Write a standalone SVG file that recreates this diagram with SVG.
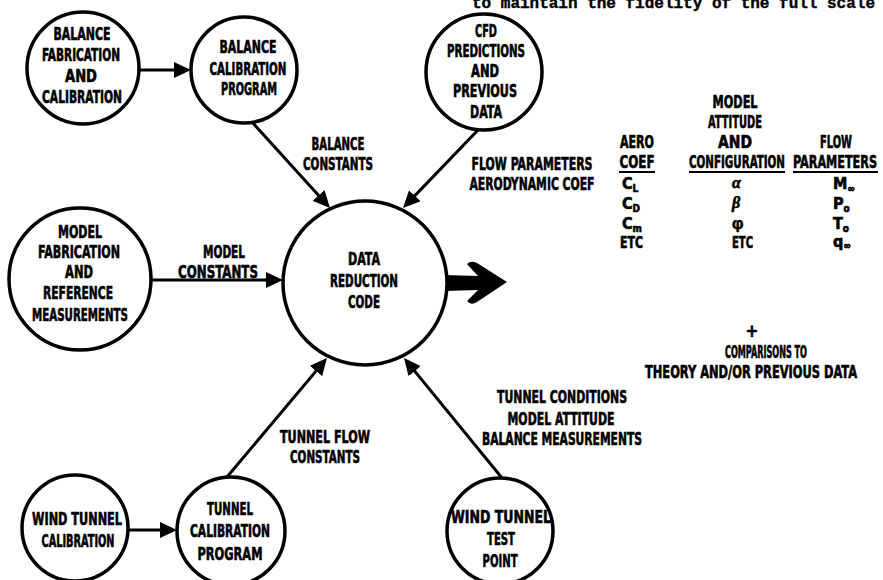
<svg xmlns="http://www.w3.org/2000/svg" width="883" height="580" viewBox="0 0 883 580">
<defs>
<marker id="ah" markerUnits="userSpaceOnUse" viewBox="0 0 17 16" refX="13" refY="8" markerWidth="17" markerHeight="16" orient="auto">
<path d="M0,0 L17,8 L0,16 Z" fill="#000"/>
</marker>
</defs>
<style>
.n{fill:#fff;stroke:#000;stroke-width:3.5}
.c{stroke:#000;stroke-width:3;fill:none;marker-end:url(#ah)}
text{font-family:"Liberation Sans Narrow","DejaVu Sans Condensed","Liberation Sans",sans-serif;font-weight:bold;font-size:17px;fill:#000;stroke:#000;stroke-width:0.6}
.m{text-anchor:middle}
.g{font-family:"Liberation Serif",serif;font-style:italic}
.t{font-size:16px}
.s{font-size:10px}
.u{stroke:#000;stroke-width:2}
.top{font-family:"Liberation Mono",monospace;font-size:16px;stroke-width:0.4}
</style>
<rect width="883" height="580" fill="#fff"/>
<text class="top" x="472" y="8" textLength="403" lengthAdjust="spacingAndGlyphs">to maintain the fidelity of the full scale</text>
<g id="connectors">
<line class="c" x1="139" y1="70" x2="187" y2="70"/>
<line class="c" x1="252" y1="122" x2="327.3" y2="205.1"/>
<line class="c" x1="478" y1="130" x2="405.8" y2="205.1"/>
<line class="c" x1="151" y1="280" x2="279" y2="280"/>
<line class="c" x1="227" y1="477" x2="324.4" y2="361.1"/>
<line class="c" x1="502" y1="478" x2="406.5" y2="361.1"/>
<line class="c" x1="128" y1="530" x2="173" y2="530"/>
<path id="output-arrow" d="M444,275 L478,276 L467,264 Q471,260 477,263 L507,282 L477,302 Q471,306 467,301 L478,290 L444,291 Z" fill="#000"/>
</g>
<g id="balance-fab">
<circle class="n" cx="83" cy="68" r="56"/>
<text class="m" x="82" y="40" textLength="57" lengthAdjust="spacingAndGlyphs">BALANCE</text>
<text class="m" x="81" y="61" textLength="78" lengthAdjust="spacingAndGlyphs">FABRICATION</text>
<text class="m" x="81" y="82" textLength="32" lengthAdjust="spacingAndGlyphs">AND</text>
<text class="m" x="82" y="103" textLength="80" lengthAdjust="spacingAndGlyphs">CALIBRATION</text>
</g>
<g id="balance-cal">
<circle class="n" cx="244" cy="70" r="53"/>
<text class="m" x="248" y="53" textLength="57" lengthAdjust="spacingAndGlyphs">BALANCE</text>
<text class="m" x="248" y="75" textLength="77" lengthAdjust="spacingAndGlyphs">CALIBRATION</text>
<text class="m" x="249" y="95" textLength="56" lengthAdjust="spacingAndGlyphs">PROGRAM</text>
</g>
<g id="cfd">
<circle class="n" cx="484" cy="72" r="58"/>
<text class="m" x="486" y="37" textLength="22" lengthAdjust="spacingAndGlyphs">CFD</text>
<text class="m" x="486" y="57" textLength="78" lengthAdjust="spacingAndGlyphs">PREDICTIONS</text>
<text class="m" x="485" y="77" textLength="28" lengthAdjust="spacingAndGlyphs">AND</text>
<text class="m" x="485" y="97" textLength="64" lengthAdjust="spacingAndGlyphs">PREVIOUS</text>
<text class="m" x="486" y="118" textLength="32" lengthAdjust="spacingAndGlyphs">DATA</text>
</g>
<g id="model-fab">
<circle class="n" cx="80" cy="279" r="71"/>
<text class="m" x="80" y="238" textLength="44" lengthAdjust="spacingAndGlyphs">MODEL</text>
<text class="m" x="79" y="258" textLength="82" lengthAdjust="spacingAndGlyphs">FABRICATION</text>
<text class="m" x="79" y="278" textLength="28" lengthAdjust="spacingAndGlyphs">AND</text>
<text class="m" x="78" y="299" textLength="70" lengthAdjust="spacingAndGlyphs">REFERENCE</text>
<text class="m" x="80" y="321" textLength="96" lengthAdjust="spacingAndGlyphs">MEASUREMENTS</text>
</g>
<g id="data-reduction">
<circle class="n" cx="365" cy="283" r="82"/>
<text class="m" x="364" y="265" textLength="32" lengthAdjust="spacingAndGlyphs">DATA</text>
<text class="m" x="364" y="287" textLength="68" lengthAdjust="spacingAndGlyphs">REDUCTION</text>
<text class="m" x="364" y="308" textLength="32" lengthAdjust="spacingAndGlyphs">CODE</text>
</g>
<g id="wt-cal">
<circle class="n" cx="75" cy="528" r="53"/>
<text class="m" x="77" y="525" textLength="90" lengthAdjust="spacingAndGlyphs">WIND TUNNEL</text>
<text class="m" x="78" y="547" textLength="73" lengthAdjust="spacingAndGlyphs">CALIBRATION</text>
</g>
<g id="tunnel-cal">
<circle class="n" cx="231" cy="531" r="54"/>
<text class="m" x="230" y="515" textLength="46" lengthAdjust="spacingAndGlyphs">TUNNEL</text>
<text class="m" x="230" y="537" textLength="80" lengthAdjust="spacingAndGlyphs">CALIBRATION</text>
<text class="m" x="230" y="560" textLength="65" lengthAdjust="spacingAndGlyphs">PROGRAM</text>
</g>
<g id="wt-test">
<circle class="n" cx="500" cy="531" r="53"/>
<text class="m" x="501" y="523" textLength="100" lengthAdjust="spacingAndGlyphs">WIND TUNNEL</text>
<text class="m" x="501" y="545" textLength="28" lengthAdjust="spacingAndGlyphs">TEST</text>
<text class="m" x="500" y="567" textLength="35" lengthAdjust="spacingAndGlyphs">POINT</text>
</g>
<g id="labels">
<text class="m" x="338" y="150" textLength="53" lengthAdjust="spacingAndGlyphs">BALANCE</text>
<text class="m" x="338" y="170" textLength="70" lengthAdjust="spacingAndGlyphs">CONSTANTS</text>
<text class="m" x="532" y="170" textLength="121" lengthAdjust="spacingAndGlyphs">FLOW PARAMETERS</text>
<text class="m" x="532" y="190" textLength="125" lengthAdjust="spacingAndGlyphs">AERODYNAMIC COEF</text>
<text class="m" x="224" y="258" textLength="42" lengthAdjust="spacingAndGlyphs">MODEL</text>
<text class="m" x="218" y="278" textLength="80" lengthAdjust="spacingAndGlyphs">CONSTANTS</text>
<text class="m" x="325" y="443" textLength="90" lengthAdjust="spacingAndGlyphs">TUNNEL FLOW</text>
<text class="m" x="325" y="463" textLength="70" lengthAdjust="spacingAndGlyphs">CONSTANTS</text>
<text class="m" x="562" y="403" textLength="130" lengthAdjust="spacingAndGlyphs">TUNNEL CONDITIONS</text>
<text class="m" x="561" y="425" textLength="107" lengthAdjust="spacingAndGlyphs">MODEL ATTITUDE</text>
<text class="m" x="562" y="445" textLength="160" lengthAdjust="spacingAndGlyphs">BALANCE MEASUREMENTS</text>
</g>
<g id="table">
<text class="m" x="637" y="148" textLength="34" lengthAdjust="spacingAndGlyphs">AERO</text>
<text class="m" x="637" y="168" textLength="35" lengthAdjust="spacingAndGlyphs">COEF</text>
<line class="u" x1="619" y1="172" x2="655" y2="172"/>
<text class="m" x="735" y="108" textLength="45" lengthAdjust="spacingAndGlyphs">MODEL</text>
<text class="m" x="735" y="128" textLength="54" lengthAdjust="spacingAndGlyphs">ATTITUDE</text>
<text class="m" x="735" y="148" textLength="34" lengthAdjust="spacingAndGlyphs">AND</text>
<text class="m" x="737" y="168" textLength="96" lengthAdjust="spacingAndGlyphs">CONFIGURATION</text>
<line class="u" x1="689" y1="172" x2="785" y2="172"/>
<text class="m" x="836" y="148" textLength="32" lengthAdjust="spacingAndGlyphs">FLOW</text>
<text class="m" x="835" y="168" textLength="84" lengthAdjust="spacingAndGlyphs">PARAMETERS</text>
<line class="u" x1="793" y1="172" x2="878" y2="172"/>
<text class="t" x="622" y="189">C<tspan class="s" dy="3">L</tspan></text>
<text class="t" x="622" y="209">C<tspan class="s" dy="3">D</tspan></text>
<text class="t" x="622" y="229">C<tspan class="s" dy="3">m</tspan></text>
<text class="t" x="620" y="248" textLength="23" lengthAdjust="spacingAndGlyphs">ETC</text>
<text class="g t" x="732" y="188">α</text>
<text class="g t" x="732" y="208">β</text>
<text class="t" x="732" y="229" style="font-family:'Liberation Sans',sans-serif">φ</text>
<text class="t" x="732" y="248" textLength="21" lengthAdjust="spacingAndGlyphs">ETC</text>
<text class="t" x="833" y="189">M<tspan class="s" dy="3">∞</tspan></text>
<text class="t" x="833" y="209">P<tspan class="s" dy="3">o</tspan></text>
<text class="t" x="833" y="229">T<tspan class="s" dy="3">o</tspan></text>
<text class="t" x="833" y="247">q<tspan class="s" dy="2">∞</tspan></text>
<text class="m" x="752" y="337">+</text>
<text class="m" x="766" y="358" textLength="82" lengthAdjust="spacingAndGlyphs">COMPARISONS TO</text>
<text class="m" x="751" y="378" textLength="212" lengthAdjust="spacingAndGlyphs">THEORY AND/OR PREVIOUS DATA</text>
</g>
</svg>
